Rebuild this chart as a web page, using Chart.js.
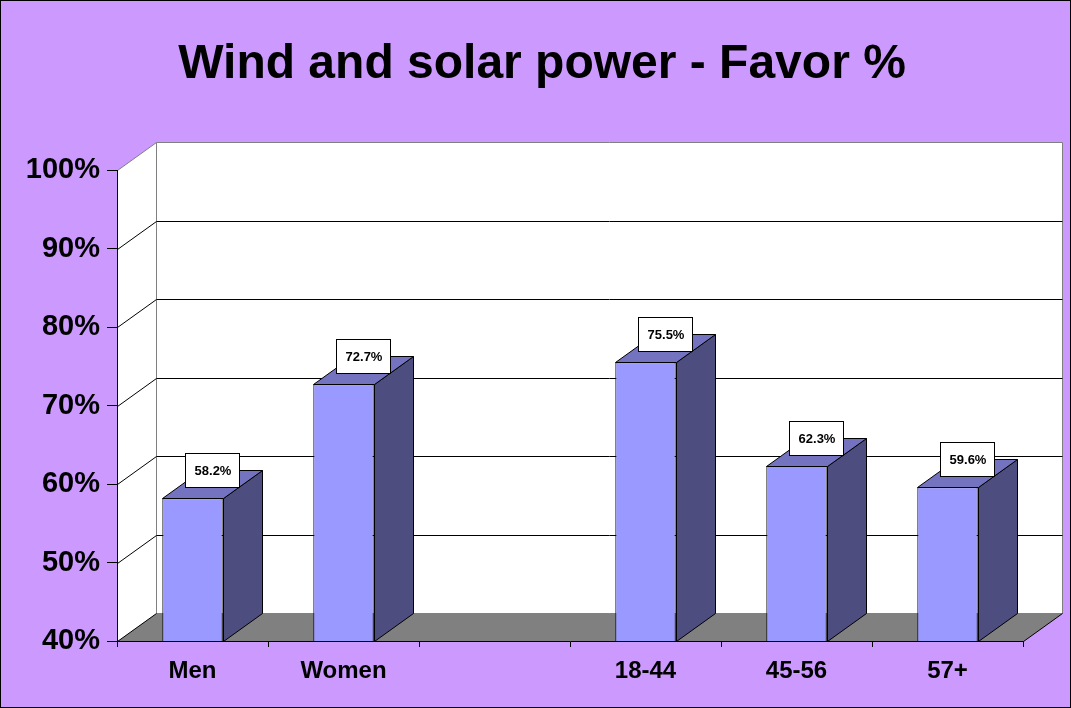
<!DOCTYPE html>
<html>
<head>
<meta charset="utf-8">
<script src="https://cdn.jsdelivr.net/npm/chart.js@4"></script>
<style>
  html, body { margin: 0; padding: 0; background: #CC99FF; }
  canvas { display: block; }
</style>
</head>
<body>
<canvas id="favor-chart" width="1071" height="708"></canvas>
<script>
// data
var categories = ['Men', 'Women', '', '18-44', '45-56', '57+'];
var favorValues = [58.2, 72.7, null, 75.5, 62.3, 59.6];
var yMin = 40, yMax = 100, yStep = 10;

// depth of the fake 3D box
var DX = 39, DY = -28;

function poly(ctx, pts, fill, stroke) {
  ctx.beginPath();
  ctx.moveTo(pts[0][0], pts[0][1]);
  for (var i = 1; i < pts.length; i++) ctx.lineTo(pts[i][0], pts[i][1]);
  ctx.closePath();
  if (fill) { ctx.fillStyle = fill; ctx.fill(); }
  if (stroke) { ctx.strokeStyle = stroke; ctx.lineWidth = 1; ctx.stroke(); }
}

function line(ctx, x1, y1, x2, y2, color) {
  ctx.beginPath();
  ctx.moveTo(x1, y1);
  ctx.lineTo(x2, y2);
  ctx.strokeStyle = color;
  ctx.lineWidth = 1;
  ctx.stroke();
}

// background, walls, floor and grid lines
var wallsPlugin = {
  id: 'walls',
  afterLayout: function(chart) {
    // title sits a bit right of the canvas centre in the original
    if (chart.titleBlock) chart.titleBlock.left = 61;
  },
  beforeDraw: function(chart) {
    var ctx = chart.ctx, a = chart.chartArea, y = chart.scales.y;
    ctx.save();
    ctx.fillStyle = '#CC99FF';
    ctx.fillRect(0, 0, chart.width, chart.height);
    ctx.strokeStyle = '#000';
    ctx.lineWidth = 1;
    ctx.strokeRect(0.5, 0.5, chart.width - 1, chart.height - 1);

    var L = Math.round(a.left) + 0.5, R = Math.round(a.right) + 0.5;
    var T = Math.round(a.top) + 0.5, B = Math.round(a.bottom) + 0.5;

    // side wall
    poly(ctx, [[L, T], [L + DX, T + DY], [L + DX, B + DY], [L, B]], '#FFFFFF', null);
    // back wall
    poly(ctx, [[L + DX, T + DY], [R + DX, T + DY], [R + DX, B + DY], [L + DX, B + DY]], '#FFFFFF', '#808080');
    // floor
    poly(ctx, [[L, B], [L + DX, B + DY], [R + DX, B + DY], [R, B]], '#808080', null);
    line(ctx, L, B, L + DX, B + DY, '#000');
    line(ctx, R, B, R + DX, B + DY, '#000');
    line(ctx, L, T, L + DX, T + DY, '#808080');

    // grid lines on the walls
    for (var v = yMin + yStep; v < yMax; v += yStep) {
      var py = Math.round(y.getPixelForValue(v)) + 0.5;
      line(ctx, L, py, L + DX, py + DY, '#000');
      line(ctx, L + DX, py + DY, R + DX, py + DY, '#000');
    }
    ctx.restore();
  }
};

// side and top faces of the bars plus value boxes
var barsPlugin = {
  id: 'bars3d',
  afterDatasetsDraw: function(chart) {
    var ctx = chart.ctx, a = chart.chartArea;
    var meta = chart.getDatasetMeta(0);
    ctx.save();
    meta.data.forEach(function(bar, i) {
      var v = favorValues[i];
      if (v == null) return;
      var left = Math.round(bar.x - bar.width / 2) + 0.5;
      var right = Math.round(bar.x + bar.width / 2) + 0.5;
      var top = Math.round(bar.y) + 0.5;
      var bottom = Math.round(a.bottom) + 0.5;
      poly(ctx, [[right, top], [right + DX, top + DY], [right + DX, bottom + DY], [right, bottom]], '#4D4D80', '#000');
      poly(ctx, [[left, top], [left + DX, top + DY], [right + DX, top + DY], [right, top]], '#7373BF', '#000');

      // value box
      var cx = Math.round(bar.x + DX / 2), cy = Math.round(top + DY) - 1;
      var bw = 54, bh = 34;
      ctx.fillStyle = '#FFFFFF';
      ctx.fillRect(cx - bw / 2 + 0.5, cy - bh / 2 + 0.5, bw, bh);
      ctx.strokeStyle = '#000';
      ctx.strokeRect(cx - bw / 2 + 0.5, cy - bh / 2 + 0.5, bw, bh);
      ctx.fillStyle = '#000';
      ctx.font = 'bold 13px Arial, "Liberation Sans", sans-serif';
      ctx.textAlign = 'center';
      ctx.textBaseline = 'middle';
      ctx.fillText(v.toFixed(1) + '%', cx + 1, cy + 1);
    });
    ctx.restore();
  }
};

var chart = new Chart(document.getElementById('favor-chart'), {
  type: 'bar',
  data: {
    labels: categories,
    datasets: [{
      label: 'Favor',
      data: favorValues,
      backgroundColor: '#9999FF',
      borderColor: '#000000',
      borderWidth: 1,
      borderSkipped: false,
      categoryPercentage: 1.0,
      barPercentage: 0.4
    }]
  },
  options: {
    responsive: false,
    animation: false,
    devicePixelRatio: 1,
    layout: {
      padding: { left: 0, right: 48, top: 0, bottom: 0 }
    },
    plugins: {
      legend: { display: false },
      tooltip: { enabled: false },
      title: {
        display: true,
        text: 'Wind and solar power - Favor %',
        color: '#000',
        font: { family: 'Arial, "Liberation Sans", sans-serif', size: 48, weight: 'bold', lineHeight: 1.2 },
        padding: { top: 36, bottom: 76.4 }
      }
    },
    scales: {
      x: {
        afterFit: function(scale) { scale.height = 67; },
        grid: { drawOnChartArea: false, drawTicks: true, tickLength: 6, color: '#000', offset: true },
        border: { display: true, color: '#000', z: 1 },
        ticks: {
          color: '#000',
          padding: 10,
          font: { family: 'Arial, "Liberation Sans", sans-serif', size: 24, weight: 'bold' }
        }
      },
      y: {
        min: yMin,
        max: yMax,
        afterFit: function(scale) { scale.width = 117; },
        grid: { drawOnChartArea: false, drawTicks: true, tickLength: 10, color: '#000' },
        border: { display: true, color: '#000', z: 1 },
        ticks: {
          stepSize: yStep,
          color: '#000',
          padding: 7,
          font: { family: 'Arial, "Liberation Sans", sans-serif', size: 29, weight: 'bold' },
          callback: function(v) { return v + '%'; }
        }
      }
    }
  },
  plugins: [wallsPlugin, barsPlugin]
});
</script>
</body>
</html>
